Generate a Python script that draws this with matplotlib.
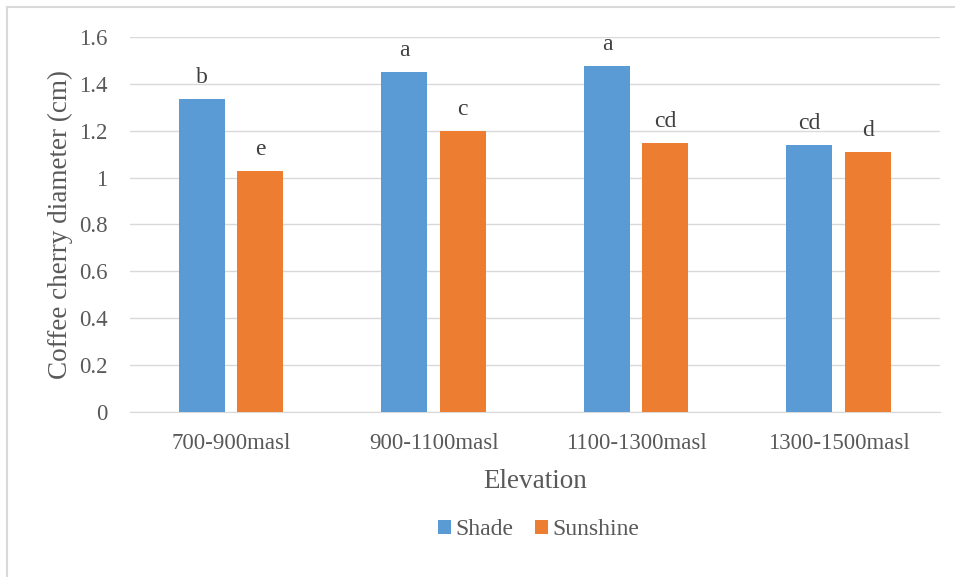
import matplotlib.pyplot as plt
import numpy as np
from matplotlib.lines import Line2D

plt.rcParams['font.family'] = ['Liberation Serif', 'DejaVu Serif']

elevations = ['700-900masl', '900-1100masl', '1100-1300masl', '1300-1500masl']
shade = [1.335, 1.45, 1.476, 1.139]
sunshine = [1.028, 1.199, 1.148, 1.109]
shade_letters = ['b', 'a', 'a', 'cd']
sun_letters = ['e', 'c', 'cd', 'd']

blue = '#5b9bd5'
orange = '#ed7d31'
grey = '#595959'

fig = plt.figure(figsize=(9.55, 5.77), dpi=100)
# chart area border (only left and top edges fall inside the picture)
fig.add_artist(Line2D([0.0075, 0.0075], [0.0, 0.988], transform=fig.transFigure,
                      color='#d9d9d9', linewidth=1.5))
fig.add_artist(Line2D([0.0075, 1.0], [0.988, 0.988], transform=fig.transFigure,
                      color='#d9d9d9', linewidth=1.5))
ax = fig.add_axes([0.136, 0.286, 0.848, 0.65])

x = np.arange(len(elevations))
w = 0.228
off = 0.144
b1 = ax.bar(x - off, shade, w, color=blue, label='Shade', zorder=3)
b2 = ax.bar(x + off, sunshine, w, color=orange, label='Sunshine', zorder=3)

for xi, v, t in zip(x - off, shade, shade_letters):
    ax.text(xi, v + 0.068, t, ha='center', va='baseline', fontsize=17, color='#404040')
for xi, v, t in zip(x + off, sunshine, sun_letters):
    ax.text(xi, v + 0.068, t, ha='center', va='baseline', fontsize=17, color='#404040')

ax.set_xlim(-0.5, 3.5)
ax.set_ylim(0, 1.6)
ax.set_yticks(np.arange(0, 1.61, 0.2))
ax.set_yticklabels(['0', '0.2', '0.4', '0.6', '0.8', '1', '1.2', '1.4', '1.6'])
ax.set_xticks(x)
ax.set_xticklabels(elevations)
ax.tick_params(axis='both', length=0, labelsize=16.5, colors=grey)
ax.tick_params(axis='x', pad=15)
ax.tick_params(axis='y', pad=16)
ax.grid(axis='y', color='#d9d9d9', linewidth=1, zorder=0)
for s in ['top', 'right', 'left']:
    ax.spines[s].set_visible(False)
ax.spines['bottom'].set_color('#d9d9d9')

ax.set_ylabel('Coffee cherry diameter (cm)', fontsize=19.5, color=grey, labelpad=4)
ax.set_xlabel('Elevation', fontsize=19.5, color=grey, labelpad=11)

fig.legend(handles=[b1, b2], loc='center', bbox_to_anchor=(0.564, 0.082), ncol=2,
           frameon=False, prop={'family': 'Liberation Serif', 'size': 17},
           labelcolor=grey, handlelength=0.55,
           handleheight=0.55, handletextpad=0.2, columnspacing=0.9)

fig.savefig('out.png', dpi=100)
